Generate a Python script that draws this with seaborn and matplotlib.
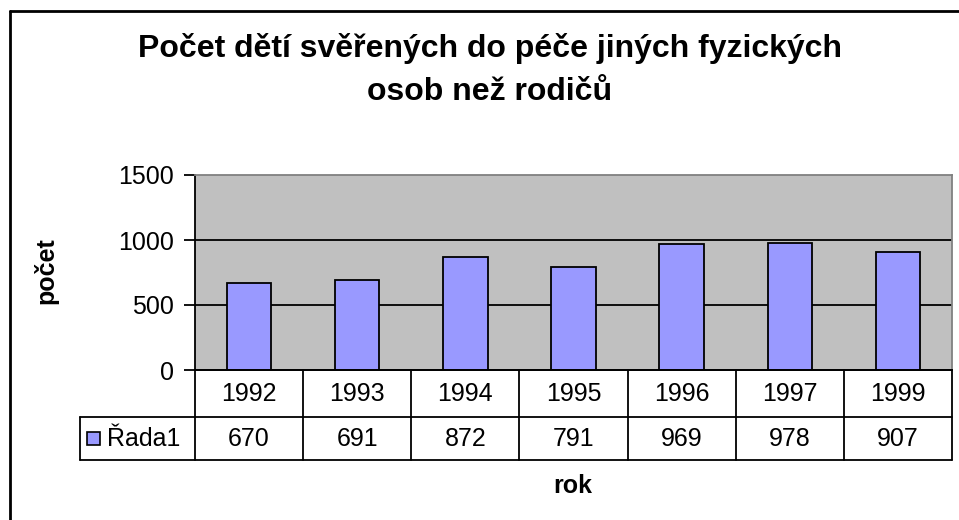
import numpy as np
import pandas as pd
import matplotlib.pyplot as plt
from matplotlib.lines import Line2D
from matplotlib.patches import Rectangle
import seaborn as sns

# data
years = ['1992', '1993', '1994', '1995', '1996', '1997', '1999']
counts = [670, 691, 872, 791, 969, 978, 907]
series_name = 'Řada1'
title = 'Počet dětí svěřených do péče jiných fyzických\nosob než rodičů'

df = pd.DataFrame({'rok': years, 'pocet': counts})

sns.set_style("white")
plt.rcParams['font.family'] = ['Liberation Sans', 'DejaVu Sans']
plt.rcParams['text.color'] = 'black'
plt.rcParams['axes.labelcolor'] = 'black'
plt.rcParams['xtick.color'] = 'black'
plt.rcParams['ytick.color'] = 'black'

W, H = 959, 520
fig = plt.figure(figsize=(W / 100, H / 100), dpi=100)

def box(x0, y0, x1, y1):
    # pixel box (top-left origin) -> figure fraction rect
    return [x0 / W, 1 - y1 / H, (x1 - x0) / W, (y1 - y0) / H]

# plot area
px0, px1, py0, py1 = 195, 952, 175, 370
ax = fig.add_axes(box(px0, py0, px1, py1))
ax.set_facecolor('#C0C0C0')
sns.barplot(data=df, x='rok', y='pocet', color='#9999FF', edgecolor='black',
            linewidth=1.3, width=0.41, saturation=1, ax=ax, zorder=3)
ax.set_ylim(0, 1500)
ax.set_xlim(-0.5, len(years) - 0.5)
ax.set_yticks([0, 500, 1000, 1500])
ax.set_yticklabels(['0', '500', '1000', '1500'], fontsize=18)
ax.set_xticks([])
ax.set_xlabel('')
ax.set_ylabel('')
for v in [500, 1000]:
    ax.axhline(v, color='black', lw=1.3, zorder=1)
ax.tick_params(axis='y', direction='out', length=8, width=1.3, color='black', pad=7, left=True)
for s in ['top', 'right']:
    ax.spines[s].set_color('#808080')
    ax.spines[s].set_linewidth(1.3)
for s in ['left', 'bottom']:
    ax.spines[s].set_color('black')
    ax.spines[s].set_linewidth(1.3)

# data table below the plot
n = len(years)
cw = (px1 - px0) / n
tx0 = 80
legw = (px0 - tx0) / cw
tax = fig.add_axes(box(tx0, 370, px1, 460))
tax.set_xlim(-0.5 - legw, n - 0.5)
tax.set_ylim(90, 0)
tax.axis('off')
lw = 1.3
tax.plot([-0.5, n - 0.5], [0, 0], color='black', lw=lw, clip_on=False)
tax.plot([-0.5 - legw, n - 0.5], [47, 47], color='black', lw=lw, clip_on=False)
tax.plot([-0.5 - legw, n - 0.5], [90, 90], color='black', lw=lw, clip_on=False)
tax.plot([-0.5 - legw, -0.5 - legw], [47, 90], color='black', lw=lw, clip_on=False)
for i in range(n + 1):
    tax.plot([i - 0.5, i - 0.5], [0, 90], color='black', lw=lw, clip_on=False)
for i, (yr, c) in enumerate(zip(years, counts)):
    tax.text(i, 24, yr, ha='center', va='center', fontsize=18)
    tax.text(i, 68.5, str(c), ha='center', va='center', fontsize=18)
# legend key
fig.add_artist(Rectangle((87 / W, 1 - 445 / H), 13 / W, 13 / H, facecolor='#9999FF',
                         edgecolor='black', lw=1.2, transform=fig.transFigure))
fig.text(107 / W, 1 - 439 / H, series_name, ha='left', va='center', fontsize=18)

# titles
fig.text(490 / W, 1 - 70 / H, title, ha='center', va='center', fontsize=23,
         fontweight='bold', linespacing=1.6)
fig.text(46 / W, 1 - 271 / H, 'počet', rotation=90, ha='center', va='center',
         fontsize=18, fontweight='bold')
fig.text(573 / W, 1 - 486 / H, 'rok', ha='center', va='center', fontsize=18,
         fontweight='bold')

# outer chart frame (left and top edges visible)
fig.add_artist(Line2D([9.5 / W, 9.5 / W], [0, 1 - 11 / H], color='black', lw=2,
                      transform=fig.transFigure))
fig.add_artist(Line2D([9.5 / W, 1], [1 - 11 / H, 1 - 11 / H], color='black', lw=2,
                      transform=fig.transFigure))

fig.savefig('out.png', dpi=100, facecolor='white')
